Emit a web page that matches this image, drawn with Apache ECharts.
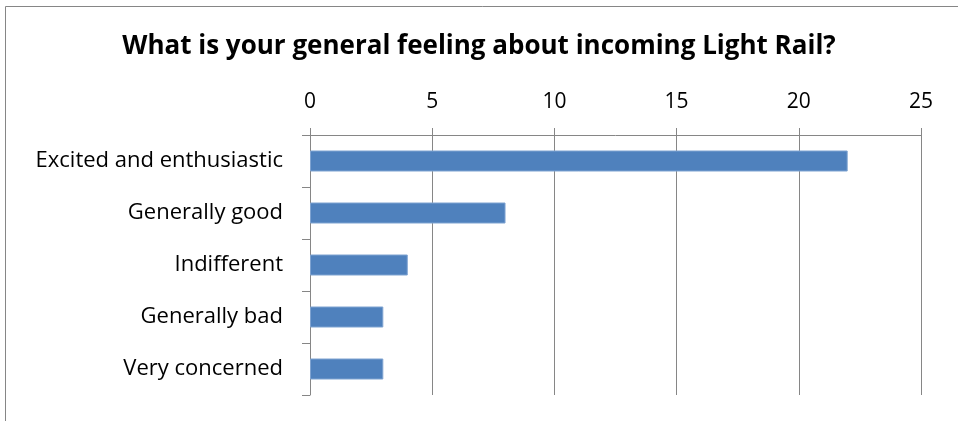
<!DOCTYPE html>
<html><head><meta charset="utf-8">
<script src="https://cdn.jsdelivr.net/npm/echarts@6/dist/echarts.min.js"></script>
<style>html,body{margin:0;padding:0;background:#fff}#c{width:958px;height:421px}</style>
</head><body><div id="c"></div>
<script>
const titleText = 'What is your general feeling about incoming Light Rail?';
const categories = ['Excited and enthusiastic', 'Generally good', 'Indifferent', 'Generally bad', 'Very concerned'];
const values = [22, 8, 4, 3, 3];
const axisMin = 0, axisMax = 25, axisStep = 5;

const FONT = 'Open Sans';
const chart = echarts.init(document.getElementById('c'), null, {renderer: 'canvas'});
chart.setOption({
  animation: false,
  backgroundColor: '#fff',
  title: {
    text: titleText, left: 'center', top: 29,
    textStyle: {fontFamily: FONT, fontWeight: 'bold', fontSize: 26, color: '#000'}
  },
  graphic: [{
    type: 'rect', shape: {x: 5.5, y: 6.5, width: 1000, height: 1000},
    style: {fill: 'none', stroke: '#868686', lineWidth: 1}, silent: true, z: -1
  }],
  grid: {left: 310, top: 135, right: 37, bottom: 26, containLabel: false},
  xAxis: {
    type: 'value', position: 'top', min: axisMin, max: axisMax, interval: axisStep,
    axisLine: {show: true, lineStyle: {color: '#868686', width: 1}},
    axisTick: {show: true, length: 7, lineStyle: {color: '#868686'}},
    axisLabel: {fontFamily: FONT, fontSize: 21, color: '#000', margin: 22},
    splitLine: {show: true, lineStyle: {color: '#868686', width: 1}}
  },
  yAxis: {
    type: 'category', data: categories, inverse: true,
    axisLine: {show: true, lineStyle: {color: '#868686', width: 1}},
    axisTick: {show: true, length: 8, lineStyle: {color: '#868686'}},
    axisLabel: {fontFamily: FONT, fontSize: 22, color: '#000', margin: 27, padding: [4, 0, 0, 0]}
  },
  series: [{
    type: 'bar', data: values, barWidth: 21,
    itemStyle: {color: '#4F81BD', borderColor: '#7FA3D1', borderWidth: 1}
  }]
});
</script></body></html>
